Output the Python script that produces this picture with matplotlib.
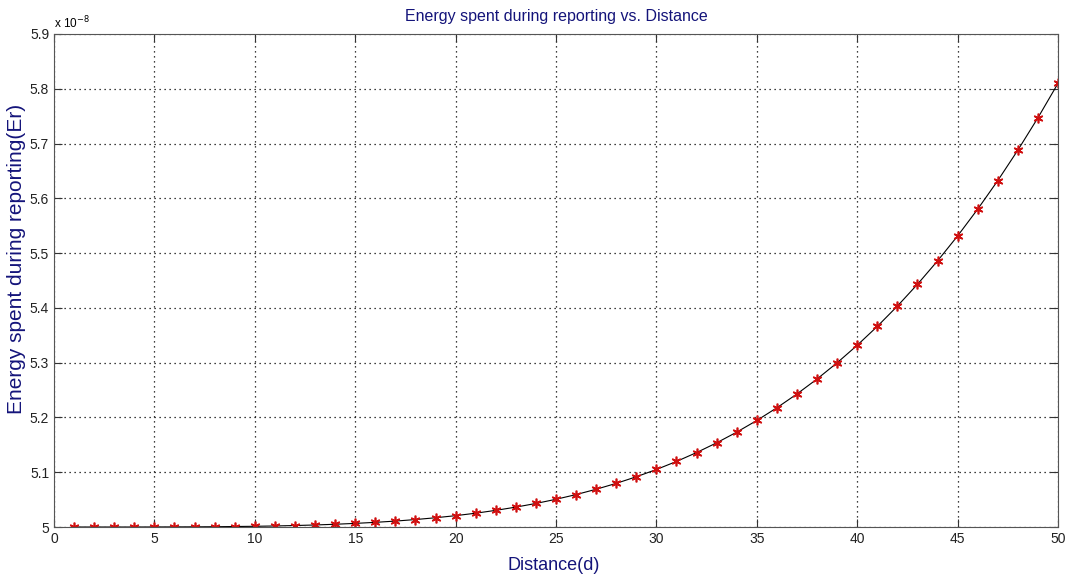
import matplotlib.pyplot as plt
import numpy as np

plt.rcParams['font.family'] = ['Liberation Sans', 'DejaVu Sans']

# distance (d) and reporting energy (units of 1e-8 J)
distance = list(range(1, 51))
energy = [5.0000, 5.0000, 5.0000, 5.0000, 5.0001, 5.0002, 5.0003, 5.0005, 5.0009, 5.0013,
          5.0019, 5.0027, 5.0037, 5.0050, 5.0066, 5.0085, 5.0108, 5.0136, 5.0169, 5.0207,
          5.0252, 5.0304, 5.0363, 5.0430, 5.0506, 5.0592, 5.0689, 5.0797, 5.0917, 5.1050,
          5.1197, 5.1359, 5.1537, 5.1732, 5.1945, 5.2177, 5.2429, 5.2702, 5.2998, 5.3318,
          5.3662, 5.4033, 5.4431, 5.4858, 5.5314, 5.5803, 5.6324, 5.6880, 5.7471, 5.8100]

navy = '#14147a'

fig = plt.figure(figsize=(10.67, 5.79), dpi=100)
ax = fig.add_axes([0.0506, 0.0898, 0.9410, 0.8515])

ax.plot(distance, energy, color='black', lw=0.8)
ax.plot(distance, energy, ls='none', marker=(6, 2, 0), ms=7, mew=1.2,
        color='#d01010')

ax.set_xlim(0, 50)
ax.set_ylim(5, 5.9)
ax.set_xticks(np.arange(0, 51, 5))
ax.set_yticks(np.arange(5, 5.91, 0.1))
ax.set_yticklabels(['5', '5.1', '5.2', '5.3', '5.4', '5.5', '5.6', '5.7', '5.8', '5.9'])
ax.tick_params(direction='in', length=6, labelsize=10, top=True, right=True,
               color='#333333', labelcolor='#222222')
ax.grid(True, ls=(0, (1, 3)), color='black', lw=0.9)
for s in ax.spines.values():
    s.set_color('#555555')

ax.text(0.0, 1.005, r'x 10$^{-8}$', transform=ax.transAxes, fontsize=8.5,
        ha='left', va='bottom')
ax.set_title('Energy spent during reporting vs. Distance', color=navy,
             fontsize=11.5, pad=9)

# axis labels placed in figure coordinates
fig.text(554 / 1067, 1 - 566 / 579, 'Distance(d)', color=navy, fontsize=13,
         ha='center', va='center')
fig.text(17 / 1067, 1 - 259 / 579, 'Energy spent during reporting(Er)', color=navy,
         fontsize=15, rotation=90, ha='center', va='center')

fig.savefig('out.png', dpi=100)
